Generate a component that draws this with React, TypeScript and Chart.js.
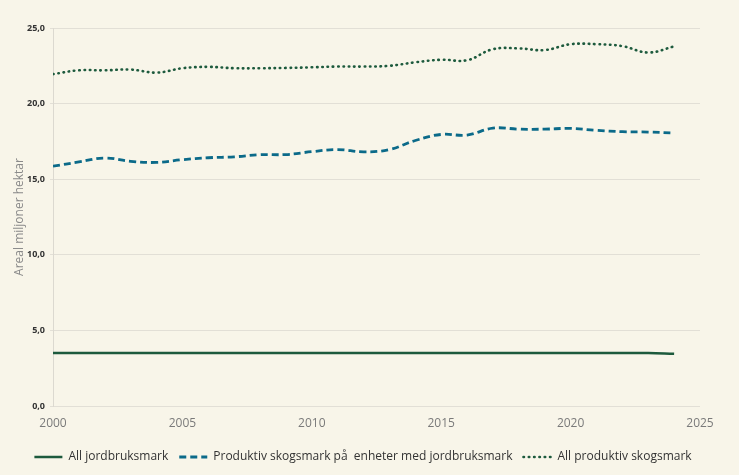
import { useEffect, useRef } from 'react';
import { Chart, registerables } from 'chart.js';

Chart.register(...registerables);

const years = [
  2000, 2001, 2002, 2003, 2004, 2005, 2006, 2007, 2008, 2009, 2010, 2011, 2012,
  2013, 2014, 2015, 2016, 2017, 2018, 2019, 2020, 2021, 2022, 2023, 2024,
];

const allJordbruksmark = [
  3.5, 3.5, 3.5, 3.5, 3.5, 3.5, 3.5, 3.5, 3.5, 3.5, 3.5, 3.5, 3.5,
  3.5, 3.5, 3.5, 3.5, 3.5, 3.5, 3.5, 3.5, 3.5, 3.5, 3.5, 3.45,
];

const skogPaaEnheter = [
  15.86, 16.14, 16.4, 16.18, 16.11, 16.29, 16.42, 16.48, 16.62, 16.63, 16.82, 16.96, 16.81,
  16.96, 17.56, 17.96, 17.92, 18.38, 18.31, 18.31, 18.36, 18.23, 18.14, 18.12, 18.05,
];

const allProduktivSkog = [
  21.95, 22.2, 22.2, 22.25, 22.05, 22.34, 22.43, 22.34, 22.34, 22.36, 22.4, 22.45, 22.45,
  22.5, 22.73, 22.9, 22.87, 23.6, 23.65, 23.54, 23.93, 23.93, 23.8, 23.38, 23.78,
];

const seriesNames = [
  'All jordbruksmark',
  'Produktiv skogsmark på  enheter med jordbruksmark',
  'All produktiv skogsmark',
];

const yTitle = 'Areal miljoner hektar';

const toPoints = (vals: number[]) => vals.map((v, i) => ({ x: years[i], y: v }));

// nudges the legend row a little to the right, like the original
const legendShift = {
  id: 'legendShift',
  afterLayout(chart: any) {
    if (chart.legend) {
      chart.legend.left += 7;
      chart.legend.right += 7;
    }
  },
};

export default function App() {
  const chartRef = useRef<HTMLCanvasElement>(null);
  const chartInstance = useRef<Chart | null>(null);

  useEffect(() => {
    document.body.style.margin = '0';
    if (!chartRef.current) return;
    const ctx = chartRef.current.getContext('2d');
    if (!ctx) return;
    if (chartInstance.current) chartInstance.current.destroy();

    chartInstance.current = new Chart(ctx, {
      type: 'line',
      data: {
        datasets: [
          {
            label: seriesNames[0],
            data: toPoints(allJordbruksmark),
            borderColor: '#1d5a3d',
            backgroundColor: 'transparent',
            borderWidth: 2.5,
            pointRadius: 0,
            tension: 0.4,
          },
          {
            label: seriesNames[1],
            data: toPoints(skogPaaEnheter),
            borderColor: '#0b6a89',
            backgroundColor: 'transparent',
            borderWidth: 2.8,
            borderDash: [7, 4],
            pointRadius: 0,
            tension: 0.4,
          },
          {
            label: seriesNames[2],
            data: toPoints(allProduktivSkog),
            borderColor: '#1d5a3d',
            backgroundColor: 'transparent',
            borderWidth: 2.6,
            borderDash: [0.5, 4.8],
            borderCapStyle: 'round',
            pointRadius: 0,
            tension: 0.4,
          },
        ],
      },
      options: {
        responsive: true,
        maintainAspectRatio: false,
        animation: false,
        layout: { padding: { left: 12, right: 39, top: 28, bottom: 2 } },
        plugins: {
          tooltip: { enabled: false },
          legend: {
            display: true,
            position: 'bottom',
            labels: {
              usePointStyle: true,
              pointStyleWidth: 28,
              boxHeight: 10,
              padding: 11,
              color: '#333333',
              font: { family: '"Open Sans"', size: 12 },
              generateLabels: (chart) => {
                const items = Chart.defaults.plugins.legend.labels.generateLabels(chart);
                items.forEach((item) => {
                  const ds: any = chart.data.datasets[item.datasetIndex as number];
                  item.pointStyle = 'line';
                  item.lineDash = ds.borderDash || [];
                  item.lineCap = ds.borderCapStyle || 'butt';
                  item.lineWidth = ds.borderWidth;
                  item.strokeStyle = ds.borderColor;
                  item.fillStyle = 'transparent';
                });
                return items;
              },
            },
          },
        },
        scales: {
          x: {
            type: 'linear',
            min: 2000,
            max: 2025,
            ticks: {
              stepSize: 5,
              color: '#7a7a7a',
              padding: 2,
              font: { family: '"Open Sans"', size: 12 },
              callback: (v) => String(v),
            },
            grid: { display: false },
            border: { display: false },
            afterFit: (scale) => {
              scale.height = 34;
            },
          },
          y: {
            min: 0,
            max: 25,
            ticks: {
              stepSize: 5,
              color: '#333333',
              padding: 5,
              font: { family: '"Open Sans"', size: 9, weight: 'bold' },
              callback: (v) => Number(v).toFixed(1).replace('.', ','),
            },
            grid: { color: '#e2dfd6', tickLength: 3, lineWidth: 1 },
            border: { display: true, color: '#dcd9d0' },
            title: {
              display: true,
              text: yTitle,
              color: '#8a8a8a',
              padding: { top: 0, bottom: 4 },
              font: { family: '"Open Sans"', size: 12 },
            },
            afterFit: (scale) => {
              scale.width = 41;
            },
          },
        },
      },
      plugins: [legendShift],
    });

    return () => {
      if (chartInstance.current) {
        chartInstance.current.destroy();
        chartInstance.current = null;
      }
    };
  }, []);

  return (
    <div style={{ width: 739, height: 475, background: '#f8f5e9', position: 'relative' }}>
      <canvas ref={chartRef}></canvas>
    </div>
  );
}
